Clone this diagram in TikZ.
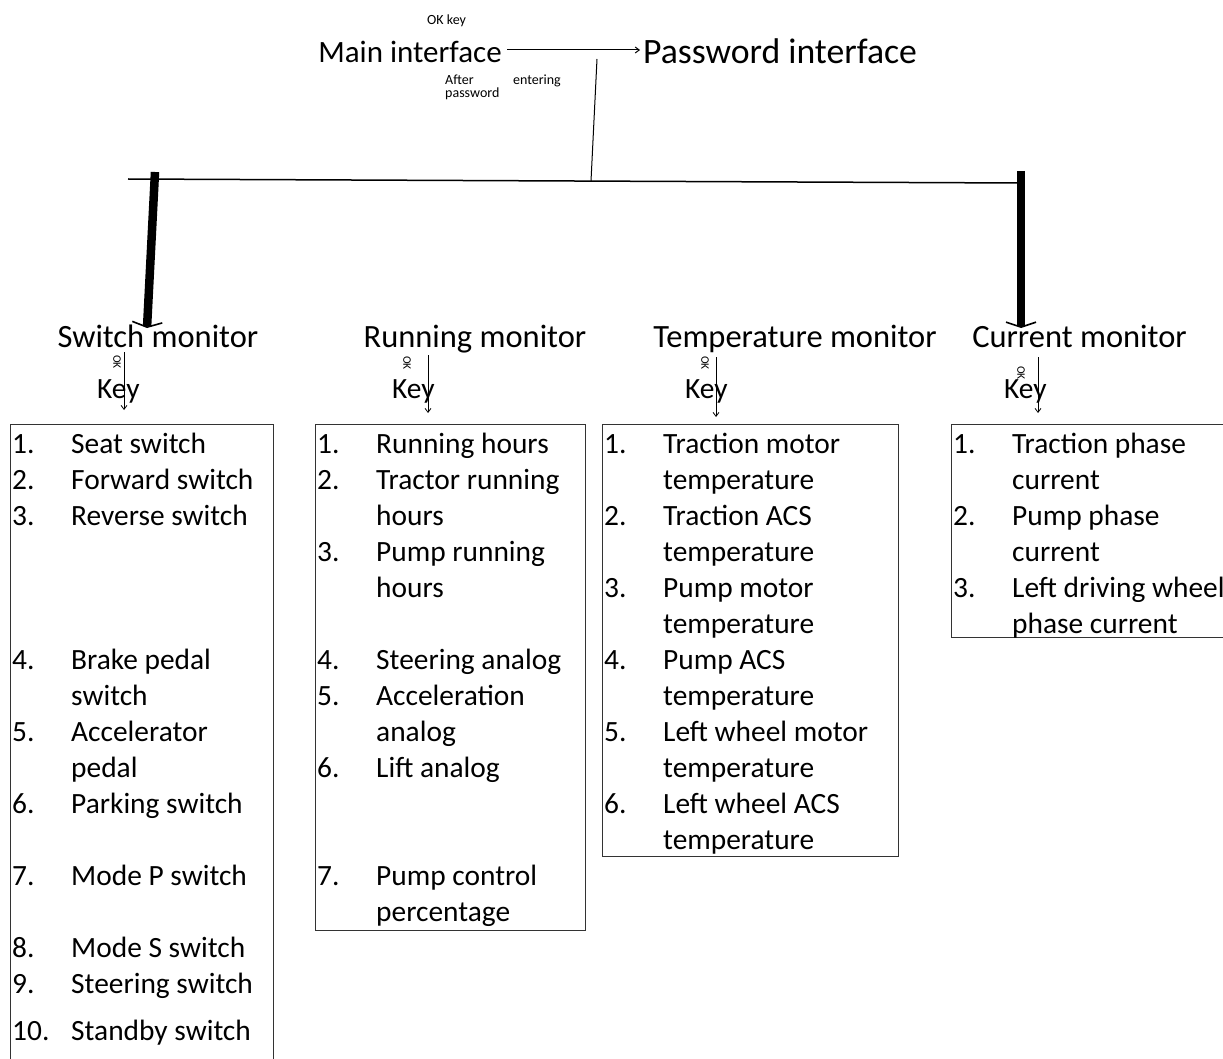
\documentclass[tikz,border=0pt]{standalone}
\usepackage{fontspec}
\setmainfont{Carlito}
\usetikzlibrary{arrows.meta}
\begin{document}
\begin{tikzpicture}[x=1pt,y=-1pt,
  big/.style={font=\fontsize{32.5}{36}\selectfont, inner sep=0pt, anchor=base},
  item/.style={font=\fontsize{29.4}{36}\selectfont, inner sep=0pt, anchor=base west},
  small/.style={font=\fontsize{14}{15}\selectfont, inner sep=0pt, anchor=base west},
  okrot/.style={font=\fontsize{11.5}{12}\selectfont, inner sep=0pt, rotate=-90},
  listbox/.style={draw=black!80, line width=1pt, anchor=north west, minimum width=#1, inner sep=0pt},
  thin/.style={line width=1pt},
  keyarrow/.style={line width=0.8pt, -{Straight Barb[length=4pt,width=6pt]}},
  fat/.style={line width=8.5pt, -{Straight Barb[length=5pt,width=30pt,line width=1.6pt]}}
]
\useasboundingbox (0,0) rectangle (1223,1059);

% top
\node[small] (ok) at (427,25) {OK key};
\node[big, font=\fontsize{31}{36}\selectfont] (main) at (410,63) {Main interface};
\node[big, font=\fontsize{35.7}{40}\selectfont] (pw) at (780,63.5) {Password interface};
\node[small] (after) at (445,85) {After};
\node[small, anchor=base east] (entering) at (561,85) {entering};
\node[small] (passw) at (445,98) {password};
\coordinate (mA) at (507,50);
\coordinate (mB) at (640,50);
\draw[thin, -{Straight Barb[length=4pt,width=6pt]}] (mA) -- (mB);

% bus
\coordinate (busL) at (128,179);
\coordinate (busR) at (1020,183);
\coordinate (busM) at (591,181);
\coordinate (pwDrop) at (597,59);
\draw[line width=1.5pt] (busL) -- (busR);
\draw[thin] (pwDrop) -- (busM);

% monitors
\node[big] (sw) at (158,347) {Switch monitor};
\node[big] (run) at (475,347) {Running monitor};
\node[big] (tmp) at (795,347) {Temperature monitor};
\node[big] (cur) at (1079.5,347) {Current monitor};

\coordinate (fatL) at (155,172);
\coordinate (fatR) at (1021,171);
\coordinate (fatLend) at (147,328);
\coordinate (fatRend) at (1021,328);
\draw[fat] (fatL) -- (fatLend);
\draw[fat] (fatR) -- (fatRend);

% OK Key labels
\node[okrot] (ok1) at (117,362) {OK};
\node[okrot] (ok2) at (407,363) {OK};
\node[okrot] (ok3) at (705,363) {OK};
\node[okrot] (ok4) at (1021,373) {OK};
\node[item] (k1) at (97,398) {Key};
\node[item] (k2) at (392,398) {Key};
\node[item] (k3) at (685,398) {Key};
\node[item] (k4) at (1004,398) {Key};
\draw[keyarrow] (124,352) -- (124,410);
\draw[keyarrow] (428,355) -- (428,413);
\draw[keyarrow] (716,357) -- (716,417);
\draw[keyarrow] (1038,357) -- (1038,413);

% boxes
\node[listbox=263pt, minimum height=660pt] (b1) at (10,424) {};
\node[listbox=270pt, minimum height=506pt] (b2) at (315,424) {};
\node[listbox=296pt, minimum height=432pt] (b3) at (602,424) {};
\node[listbox=290pt, minimum height=213pt] (b4) at (951,424) {};

% switch list
\foreach \n/\y in {1/453,2/489,3/525,4/669,5/741,6/813,7/885,8/957,9/993}
  \node[item] (swn\n) at (12,\y) {\n.};
\node[item] (swn10) at (12,1040) {10.};
\foreach \t/\y [count=\i] in {Seat switch/453,Forward switch/489,Reverse switch/525,Brake pedal/669,switch/705,Accelerator/741,pedal/777,Parking switch/813,Mode P switch/885,Mode S switch/957,Steering switch/993,Standby switch/1040}
  \node[item] (swt\i) at (71,\y) {\t};

% running list
\foreach \n/\y in {1/453,2/489,3/561,4/669,5/705,6/777,7/885}
  \node[item] (rnn\n) at (317,\y) {\n.};
\foreach \t/\y [count=\i] in {Running hours/453,Tractor running/489,hours/525,Pump running/561,hours/597,Steering analog/669,Acceleration/705,analog/741,Lift analog/777,Pump control/885,percentage/921}
  \node[item] (rnt\i) at (376,\y) {\t};

% temperature list
\foreach \n/\y in {1/453,2/525,3/597,4/669,5/741,6/813}
  \node[item] (tpn\n) at (604,\y) {\n.};
\foreach \t/\y [count=\i] in {Traction motor/453,temperature/489,Traction ACS/525,temperature/561,Pump motor/597,temperature/633,Pump ACS/669,temperature/705,Left wheel motor/741,temperature/777,Left wheel ACS/813,temperature/849}
  \node[item] (tpt\i) at (663,\y) {\t};

% current list
\foreach \n/\y in {1/453,2/525,3/597}
  \node[item] (crn\n) at (953,\y) {\n.};
\foreach \t/\y [count=\i] in {Traction phase/453,current/489,Pump phase/525,current/561,Left driving wheel/597,phase current/633}
  \node[item] (crt\i) at (1012,\y) {\t};
\end{tikzpicture}
\end{document}
